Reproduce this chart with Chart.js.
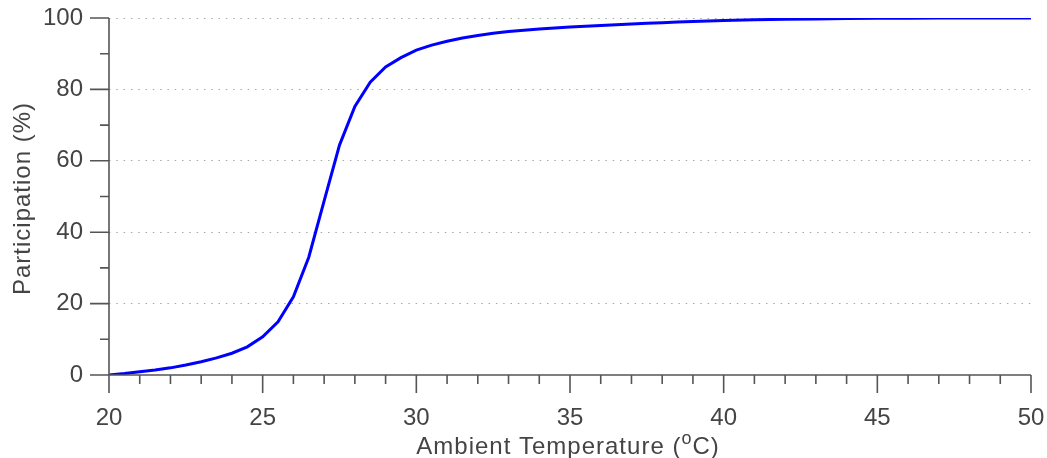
<!DOCTYPE html>
<html><head><meta charset="utf-8">
<style>html,body{margin:0;padding:0;background:#fff}#wrap{width:1047px;height:458px}</style>
<script src="https://cdn.jsdelivr.net/npm/chart.js@4.4.1/dist/chart.umd.min.js"></script>
</head><body><div id="wrap"><canvas id="c" width="1047" height="458"></canvas></div>
<script>
const temperatures = [20,20.5,21,21.5,22,22.5,23,23.5,24,24.5,25,25.5,26,26.5,27,27.5,28,28.5,29,29.5,30,30.5,31,31.5,32,32.5,33,33.5,34,34.5,35,35.5,36,36.5,37,37.5,38,38.5,39,39.5,40,41,42,43,44,45,46,47,48,49,50];
const participation = [0,0.4,0.9,1.4,2.0,2.8,3.7,4.8,6.1,7.9,10.7,14.9,21.9,33,48.8,64.4,75.2,82,86.3,88.9,91.0,92.4,93.5,94.4,95.1,95.7,96.2,96.6,96.9,97.2,97.5,97.7,97.9,98.1,98.3,98.5,98.7,98.85,99.0,99.15,99.3,99.5,99.65,99.75,99.85,99.9,99.95,99.97,99.98,99.99,100];
const xTickLabels = [20,25,30,35,40,45,50];
const yTickLabels = [0,20,40,60,80,100];
const xTitleParts = ['Ambient Temperature (', 'o', 'C)'];
const yTitle = 'Participation (%)';

const FONT = '"Liberation Sans", Arial, Helvetica, sans-serif';
const TEXT = '#444444';
const AXIS = '#555555';

function zeroPad(s) { s.paddingTop = 0; s.paddingBottom = 0; s.paddingLeft = 0; s.paddingRight = 0; }

const axesPlugin = {
  id: 'axesPlugin',
  afterDraw(chart) {
    const ctx = chart.ctx, a = chart.chartArea;
    const xs = chart.scales.x, ys = chart.scales.y;
    ctx.save();
    ctx.strokeStyle = AXIS;
    ctx.lineWidth = 1.6;
    ctx.lineCap = 'butt';
    ctx.beginPath();
    ctx.moveTo(a.left, a.top); ctx.lineTo(a.left, a.bottom);
    ctx.moveTo(a.left, a.bottom); ctx.lineTo(a.right, a.bottom);
    ys.ticks.forEach(t => {
      const y = ys.getPixelForValue(t.value);
      const len = yTickLabels.includes(t.value) ? 19 : 9;
      ctx.moveTo(a.left - len, y); ctx.lineTo(a.left, y);
    });
    xs.ticks.forEach(t => {
      const x = xs.getPixelForValue(t.value);
      const len = xTickLabels.includes(t.value) ? 18 : 9;
      ctx.moveTo(x, a.bottom); ctx.lineTo(x, a.bottom + len);
    });
    ctx.stroke();

    ctx.fillStyle = TEXT;
    try { ctx.letterSpacing = '1px'; } catch (e) {}
    // y title
    ctx.save();
    ctx.translate(30, (a.top + a.bottom) / 2 + 2);
    ctx.rotate(-Math.PI / 2);
    ctx.font = '24px ' + FONT;
    ctx.textAlign = 'center';
    ctx.textBaseline = 'alphabetic';
    ctx.fillText(yTitle, 0, 0);
    ctx.restore();

    // x title with superscript
    const big = '24px ' + FONT, small = '18px ' + FONT;
    ctx.font = big; const w1 = ctx.measureText(xTitleParts[0]).width;
    ctx.font = small; const w2 = ctx.measureText(xTitleParts[1]).width;
    ctx.font = big; const w3 = ctx.measureText(xTitleParts[2]).width;
    const total = w1 + w2 + w3;
    let x = (a.left + a.right) / 2 - total / 2 - 2;
    const base = 454;
    ctx.textAlign = 'left';
    ctx.textBaseline = 'alphabetic';
    ctx.font = big; ctx.fillText(xTitleParts[0], x, base); x += w1;
    ctx.font = small; ctx.fillText(xTitleParts[1], x, base - 10); x += w2;
    ctx.font = big; ctx.fillText(xTitleParts[2], x, base);
    ctx.restore();
  }
};

new Chart(document.getElementById('c'), {
  type: 'line',
  data: {
    datasets: [{
      data: temperatures.map((t, i) => ({x: t, y: participation[i]})),
      borderColor: '#0000ff',
      borderWidth: 3,
      pointRadius: 0,
      tension: 0,
      fill: false
    }]
  },
  options: {
    responsive: false,
    animation: false,
    events: [],
    layout: {padding: {top: 18, right: 16, left: 0, bottom: 0}},
    plugins: {legend: {display: false}, tooltip: {enabled: false}},
    scales: {
      x: {
        type: 'linear', min: 20, max: 50,
        afterFit(s) { s.height = 83; zeroPad(s); },
        grid: {display: false},
        border: {display: false},
        ticks: {
          stepSize: 1, autoSkip: false, maxRotation: 0, padding: 21,
          color: TEXT, font: {family: FONT, size: 24},
          callback: v => xTickLabels.includes(v) ? String(v) : ''
        }
      },
      y: {
        min: 0, max: 100,
        afterFit(s) { s.width = 109; zeroPad(s); },
        grid: {
          drawTicks: false,
          lineWidth: 1,
          color: c => (c.tick && c.tick.value % 20 === 0 && c.tick.value !== 0) ? '#a8a8a8' : 'rgba(0,0,0,0)'
        },
        border: {display: false, dash: [1.5, 5.8]},
        ticks: {
          stepSize: 10, autoSkip: false, padding: 26,
          color: TEXT, font: {family: FONT, size: 24},
          callback: v => yTickLabels.includes(v) ? String(v) : ''
        }
      }
    }
  },
  plugins: [axesPlugin]
});
</script>
</body></html>
